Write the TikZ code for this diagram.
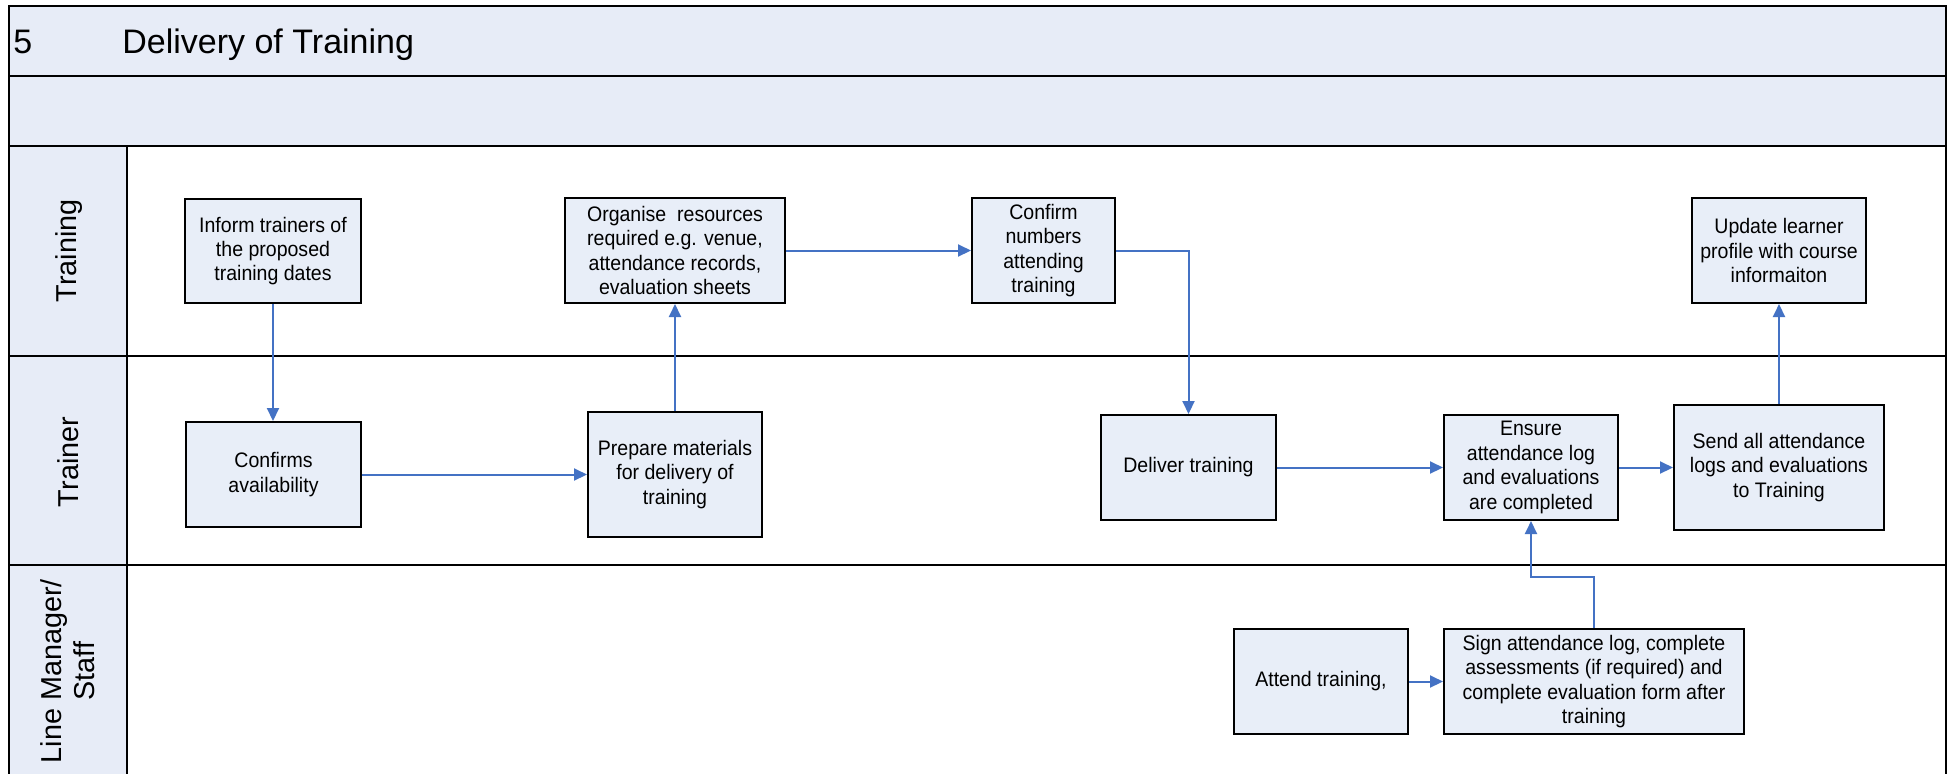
\documentclass[tikz,border=0pt]{standalone}
\usepackage{fontspec}
\setmainfont{Liberation Sans}
\newfontfamily\boxfont{Liberation Sans}[FakeStretch=0.93]
\usetikzlibrary{arrows.meta}
\definecolor{bandfill}{RGB}{231,236,247}
\definecolor{boxfill}{RGB}{232,238,248}
\definecolor{arrowblue}{RGB}{68,114,196}
\begin{document}
\begin{tikzpicture}[x=0.5pt,y=-0.5pt,
  box/.style={draw=black, fill=boxfill, line width=1pt, align=center, inner sep=0pt,
    font=\boxfont\fontsize{10.5pt}{12.2pt}\selectfont},
  arr/.style={draw=arrowblue, line width=1pt, -{Triangle[length=6.5pt,width=6pt]}},
  lanerule/.style={draw=black, line width=1.2pt},
  lanelabel/.style={rotate=90, font=\fontsize{14.4pt}{16.5pt}\selectfont, align=center, inner sep=0pt},
  titletext/.style={anchor=base west, inner sep=0pt, font=\fontsize{17pt}{20pt}\selectfont}]
\useasboundingbox (0,0) rectangle (1955,773);
\clip (0,0) rectangle (1955,773);
% background bands
\fill[white] (0,0) rectangle (1955,773);
\fill[bandfill] (9,6) rectangle (1946,146);
\fill[bandfill] (9,146) rectangle (127,800);
% frame and lane rules
\draw[lanerule] (9,800) -- (9,6) -- (1946,6) -- (1946,800);
\draw[lanerule] (9,76) -- (1946,76);
\draw[lanerule] (9,146) -- (1946,146);
\draw[lanerule] (9,356) -- (1946,356);
\draw[lanerule] (9,565) -- (1946,565);
\draw[lanerule] (127,146) -- (127,800);
% title
\node[titletext] (num) at (13,53) {5};
\node[titletext] (title) at (122,53) {Delivery of Training};
% lane labels
\node[lanelabel] (lTraining) at (69,251) {Training};
\node[lanelabel] (lTrainer) at (68,462) {Trainer};
\node[lanelabel] (lLine) at (67.5,671) {Line Manager/\\Staff};
% boxes
\node[box, minimum width=88pt, minimum height=52pt] (inform) at (273,251) {Inform trainers of\\the proposed\\training dates};
\node[box, minimum width=110pt, minimum height=52.5pt] (organise) at (675,250.5) {Organise\ \ resources\\required e.g. venue,\\attendance records,\\evaluation sheets};
\node[box, minimum width=71.5pt, minimum height=52.5pt] (confirm) at (1043.5,250.5) {Confirm\\numbers\\attending\\training};
\node[box, minimum width=87pt, minimum height=52.5pt] (update) at (1779,250.5) {Update learner\\profile with course\\informaiton};
\node[box, minimum width=87.5pt, minimum height=52.5pt] (confirms) at (273.5,474.5) {Confirms\\availability};
\node[box, minimum width=87pt, minimum height=62.5pt] (prepare) at (675,474.5) {Prepare materials\\for delivery of\\training};
\node[box, minimum width=87.5pt, minimum height=52.5pt] (deliver) at (1188.5,467.5) {Deliver training};
\node[box, minimum width=87pt, minimum height=52.5pt] (ensure) at (1531,467.5) {Ensure\\attendance log\\and evaluations\\are completed};
\node[box, minimum width=105pt, minimum height=62.5pt] (send) at (1779,467.5) {Send all attendance\\logs and evaluations\\to Training};
\node[box, minimum width=87pt, minimum height=52.5pt] (attend) at (1321,681.5) {Attend training,};
\node[box, minimum width=150pt, minimum height=52.5pt] (sign) at (1594,681.5) {Sign attendance log, complete\\assessments (if required) and\\complete evaluation form after\\training};
\coordinate (bend) at (1531,577);
% connectors
\draw[arr] (inform.south) -- (confirms.north -| inform.south);
\draw[arr] (confirms.east) -- (prepare.west |- confirms.east);
\draw[arr] (prepare.north) -- (organise.south);
\draw[arr] (organise.east) -- (confirm.west |- organise.east);
\draw[arr] (confirm.east) -| (deliver.north);
\draw[arr] (deliver.east) -- (ensure.west);
\draw[arr] (ensure.east) -- (send.west);
\draw[arr] (send.north) -- (update.south);
\draw[arr] (attend.east) -- (sign.west);
\draw[arr] (sign.north) |- (bend) -- (ensure.south);
\end{tikzpicture}
\end{document}
